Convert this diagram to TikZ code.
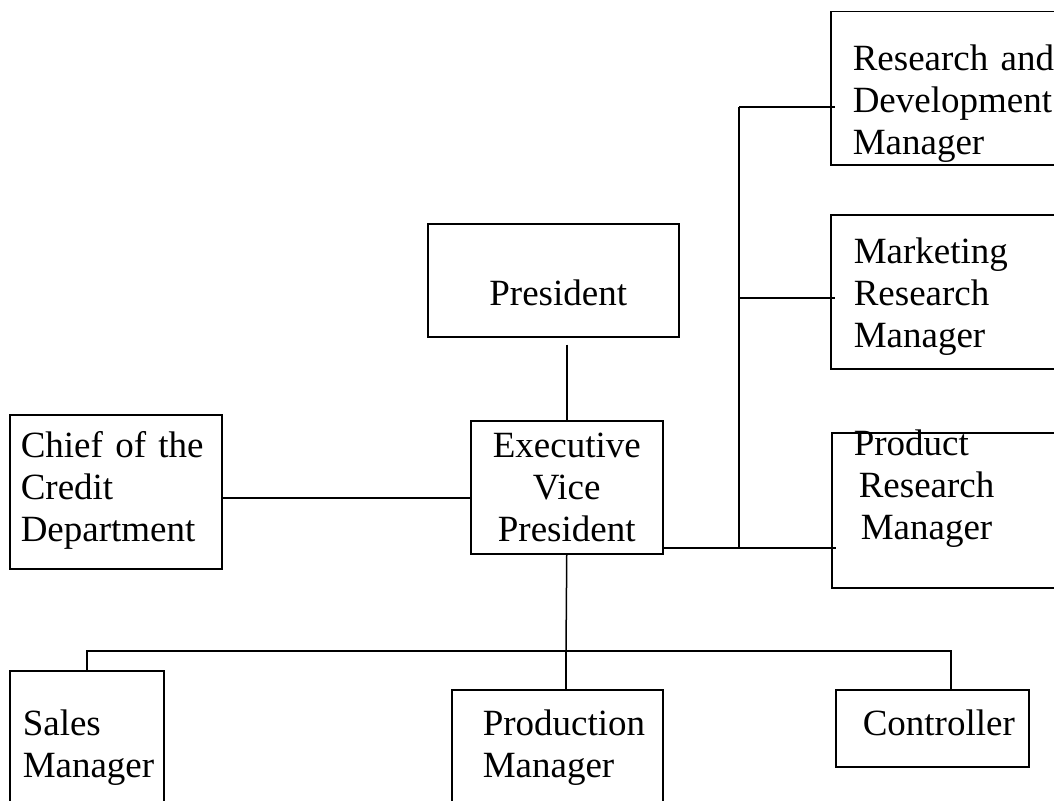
\documentclass[tikz,border=0pt]{standalone}
\usepackage{fontspec}
\setmainfont[WordSpace=0.75]{Liberation Serif}

\begin{document}
\begin{tikzpicture}[x=1pt,y=-1pt]
        \tikzstyle{post}=[draw,line width=1.5pt,anchor=north west,inner ysep=0pt,align=left,font=\fontsize{37}{42}\selectfont]
        \tikzstyle{wire}=[line width=1.5pt]
        \clip (0,0) rectangle (1054,800);
        % top and right side
        \node[post,inner xsep=22pt,text width=220pt,text height=59pt,text depth=94pt] (rd) at (830,11) {Research and\\Development\\Manager};
        \node[post,inner xsep=23pt,text width=220pt,text height=49pt,text depth=105pt] (mkt) at (830,214) {Marketing\\Research\\Manager};
        \node[post,inner xsep=22pt,text width=220pt,text height=23pt,text depth=132pt] (prod) at (831,432) {Product\\\hspace*{5pt}Research\\\hspace*{7pt}Manager};
        \node[post,inner xsep=10pt,text width=231pt,text height=82pt,text depth=31pt,align=center] (pres) at (427,223) {\hspace*{10pt}President};
        \node[post,inner xsep=0pt,text width=192pt,text height=37pt,text depth=96pt,align=center] (evp) at (470,420) {Executive\\Vice\\President};
        \node[post,inner xsep=11pt,text width=190pt,text height=43pt,text depth=111pt] (chief) at (9,414) {Chief of the\\Credit\\Department};
        % bottom row
        \node[post,inner xsep=13pt,text width=128pt,text height=65pt,text depth=200pt] (sales) at (9,670) {Sales\\Manager};
        \node[post,inner xsep=31pt,text width=149pt,text height=46pt,text depth=200pt] (pm) at (451,689) {Production\\Manager};
        \node[post,inner xsep=27pt,text width=139pt,text height=46pt,text depth=31pt] (ctrl) at (835,689) {Controller};
        % connectors
        \coordinate (rtop) at (739,107);
        \coordinate (rmid) at (739,298);
        \coordinate (rbot) at (739,548);
        \coordinate (bus) at (566,651);
        \draw[wire] ([yshift=-7pt]pres.south -| evp.north) -- (evp.north);
        \draw[wire] ([yshift=-6pt]chief.east) -- ([yshift=-6pt]chief.east -| evp.west);
        \draw[wire] (evp.east |- rbot) -- ([xshift=5pt]prod.west |- rbot);
        \draw[wire] (rtop) -- (rbot);
        \draw[wire] (rtop) -- ([xshift=5pt]rd.west |- rtop);
        \draw[wire] (rmid) -- ([xshift=5pt]mkt.west |- rmid);
        \draw[wire] (evp.south) -- (bus);
        \draw[wire] (sales.north) |- (bus) -| ([xshift=18.5pt]ctrl.north);
        \draw[wire] (bus) -- (bus |- pm.north);
\end{tikzpicture}
\end{document}
